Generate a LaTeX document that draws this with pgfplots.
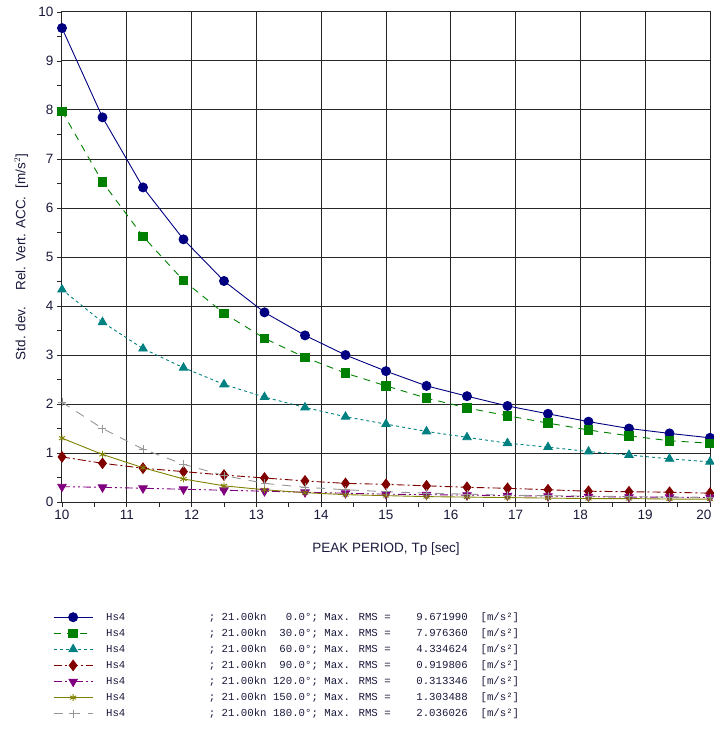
\documentclass[border=0pt]{standalone}
\usepackage{fontspec}
\setmainfont{Liberation Sans}
\newfontfamily\legfont{Liberation Mono}
\usepackage{pgfplots}
\usepackage{pgfplotstable}
\pgfplotsset{compat=1.18}

\definecolor{txt}{RGB}{25,25,60}
\definecolor{c0}{RGB}{0,0,128}
\definecolor{c30}{RGB}{0,128,0}
\definecolor{c60}{RGB}{0,128,128}
\definecolor{c90}{RGB}{128,0,0}
\definecolor{c120}{RGB}{128,0,128}
\definecolor{c150}{RGB}{128,128,0}
\definecolor{c180}{RGB}{150,150,150}

% Tp, then one column per heading (0,30,60,90,120,150,180 deg)
\pgfplotstableread{
x      a     b     c     d     e     f     g
10     9.672 7.976 4.335 0.920 0.313 1.303 2.036
10.625 7.85  6.53  3.67  0.79  0.30  0.97  1.50
11.25  6.42  5.42  3.13  0.69  0.28  0.70  1.08
11.875 5.36  4.52  2.74  0.62  0.26  0.47  0.77
12.5   4.51  3.85  2.40  0.55  0.24  0.33  0.54
13.125 3.87  3.34  2.14  0.49  0.22  0.25  0.38
13.75  3.40  2.95  1.93  0.43  0.20  0.19  0.30
14.375 3.00  2.63  1.74  0.38  0.18  0.15  0.25
15     2.67  2.37  1.59  0.36  0.16  0.13  0.21
15.625 2.37  2.12  1.44  0.33  0.15  0.11  0.18
16.25  2.16  1.92  1.32  0.30  0.14  0.10  0.16
16.875 1.96  1.76  1.20  0.28  0.13  0.09  0.14
17.5   1.80  1.61  1.12  0.25  0.12  0.08  0.13
18.125 1.64  1.47  1.03  0.22  0.11  0.07  0.12
18.75  1.50  1.35  0.96  0.21  0.10  0.07  0.11
19.375 1.40  1.25  0.88  0.20  0.10  0.06  0.10
20     1.31  1.20  0.82  0.18  0.09  0.06  0.09
}\rao

\begin{document}
\begin{tikzpicture}
\begin{axis}[
    at={(0pt,0pt)}, anchor=south west,
    scale only axis,
    width=648pt, height=490pt,
    xmin=10, xmax=20, ymin=0, ymax=10,
    xtick={10,...,20}, ytick={0,...,10},
    xticklabels={10,11,12,13,14,15,16,17,18,19,{\makebox[0pt][r]{20\hspace{-1.5pt}}}},
    minor tick num=1,
    tick align=outside, tick pos=left,
    major tick length=5pt, minor tick length=5pt,
    every tick/.style={black!85, line width=0.8pt},
    grid=major,
    major grid style={black!85, line width=1pt},
    axis line style={black!85, line width=1pt},
    /pgf/number format/assume math mode=true,
    tick label style={font=\fontsize{13.5}{15}\selectfont, text=txt},
    xlabel={PEAK PERIOD, Tp [sec]},
    ylabel={Std. dev.\hspace{1.2em}Rel. Vert. ACC.\hspace{0.6em}[m/s$^2$]},
    label style={font=\fontsize{13.5}{15}\selectfont, text=txt},
    x label style={at={(axis description cs:0.5,0)}, anchor=center, yshift=-47pt},
    y label style={at={(axis description cs:-0.063,0.5)}, anchor=center},
    every axis plot/.append style={line width=0.9pt},
    legend image code/.code={%
        \draw[mark repeat=2, mark phase=2, #1]
            plot coordinates {(0pt,0pt) (19.5pt,0pt) (39pt,0pt)};},
    legend cell align=left,
    legend style={
        at={(axis description cs:-0.0139,-0.2245)}, anchor=north west,
        draw=none, fill=none, inner sep=0pt,
        font=\legfont\fontsize{10.7}{12}\selectfont, text=txt,
        row sep=6pt,
        nodes={inner sep=0pt, text height=8pt, text depth=2pt},
        /tikz/every odd column/.append style={column sep=13pt},
    },
]
\addplot[c0, solid, mark=*, mark size=4.5pt, mark options={solid, fill=c0}] table[x=x, y=a] {\rao};
\addlegendentry{Hs4~~~~~~~~~~~~~; 21.00kn~~~0.0°; Max. RMS =~~~~9.671990~~[m/s²]}
\addplot[c30, dash pattern=on 7pt off 6pt, mark=square*, mark size=4.2pt, mark options={solid, fill=c30}] table[x=x, y=b] {\rao};
\addlegendentry{Hs4~~~~~~~~~~~~~; 21.00kn~~30.0°; Max. RMS =~~~~7.976360~~[m/s²]}
\addplot[c60, dash pattern=on 3pt off 3pt, mark=triangle*, mark size=4.8pt, mark options={solid, fill=c60}] table[x=x, y=c] {\rao};
\addlegendentry{Hs4~~~~~~~~~~~~~; 21.00kn~~60.0°; Max. RMS =~~~~4.334624~~[m/s²]}
\addplot[c90, dash pattern=on 8pt off 3pt on 2pt off 3pt, mark=diamond*, mark size=5.2pt, mark options={solid, fill=c90}] table[x=x, y=d] {\rao};
\addlegendentry{Hs4~~~~~~~~~~~~~; 21.00kn~~90.0°; Max. RMS =~~~~0.919806~~[m/s²]}
\addplot[c120, dash pattern=on 8pt off 3pt on 2pt off 3pt on 2pt off 3pt, mark=triangle*, mark size=4.8pt, mark options={solid, fill=c120, rotate=180}] table[x=x, y=e] {\rao};
\addlegendentry{Hs4~~~~~~~~~~~~~; 21.00kn 120.0°; Max. RMS =~~~~0.313346~~[m/s²]}
\addplot[c150, solid, mark=asterisk, mark size=3.5pt, mark options={solid}] table[x=x, y=f] {\rao};
\addlegendentry{Hs4~~~~~~~~~~~~~; 21.00kn 150.0°; Max. RMS =~~~~1.303488~~[m/s²]}
\addplot[c180, dash pattern=on 9pt off 8pt, mark=+, mark size=4pt, mark options={solid}] table[x=x, y=g] {\rao};
\addlegendentry{Hs4~~~~~~~~~~~~~; 21.00kn 180.0°; Max. RMS =~~~~2.036026~~[m/s²]}
\end{axis}
\pgfresetboundingbox
\path[use as bounding box] (-62pt,-229pt) rectangle (652pt,502pt);
\end{tikzpicture}
\end{document}
